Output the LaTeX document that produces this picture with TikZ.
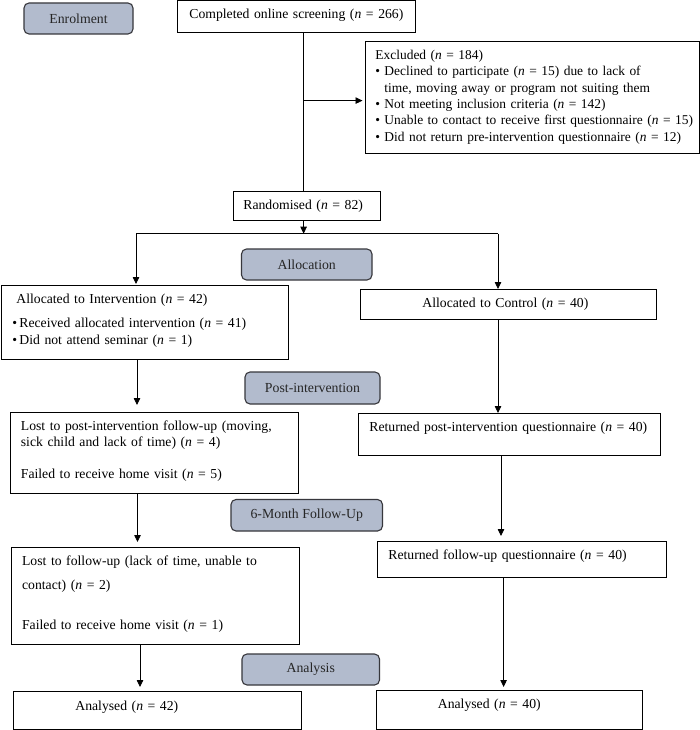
\documentclass[tikz,border=0pt]{standalone}
\usepackage{fontspec}
\setmainfont{Liberation Serif}
\usetikzlibrary{arrows.meta}
\definecolor{phasefill}{RGB}{178,187,205}
\definecolor{phaseline}{RGB}{55,55,60}
\newcommand{\nn}{\textit{n}}
\newcommand{\blt}[1]{\makebox[#1][l]{\textbullet}}
\begin{document}
\begin{tikzpicture}[x=1pt,y=-1pt,
  box/.style={draw=black, line width=0.8pt, anchor=north west, inner ysep=0pt, align=left},
  phase/.style={draw=phaseline, fill=phasefill, rounded corners=5pt, line width=1.1pt,
    font=\fontsize{13.8}{15}\selectfont, text=black!85, inner sep=0pt},
  arr/.style={-{Triangle[length=7pt,width=6.5pt]}, line width=0.8pt},
  ln/.style={line width=0.8pt}]
\useasboundingbox (0,0) rectangle (700,730);
\fill[white] (0,0) rectangle (700,730);

% phase labels
\node[phase, minimum width=109pt, minimum height=31pt] (enr) at (78.5,18.5) {Enrolment};
\node[phase, minimum width=130.5pt, minimum height=31pt] (alloc) at (306.75,264.5) {Allocation};
\node[phase, minimum width=135pt, minimum height=32pt] (post) at (312.5,388) {Post-intervention};
\node[phase, minimum width=151.5pt, minimum height=31.5pt] (six) at (306.75,515.25) {6-Month Follow-Up};
\node[phase, minimum width=137.5pt, minimum height=31pt] (ana) at (310.75,669.5) {Analysis};

% boxes
\node[box, align=center, inner xsep=5pt, text width=228pt, text height=18.5pt, text depth=13.5pt,
  font=\fontsize{13.7}{16}\selectfont] (comp) at (177,0)
  {\mbox{Completed online screening (\nn{} = 266)}};

\node[box, inner xsep=10pt, text width=314pt, text height=18pt, text depth=94pt,
  font=\fontsize{13.45}{16.4}\selectfont] (excl) at (365,41)
  {\mbox{Excluded (\nn{} = 184)}\\
   \mbox{\blt{9pt}Declined to participate (\nn{} = 15) due to lack of}\\
   \mbox{\hspace*{9pt}time, moving away or program not suiting them}\\
   \mbox{\blt{9pt}Not meeting inclusion criteria (\nn{} = 142)}\\
   \mbox{\blt{9pt}Unable to contact to receive first questionnaire (\nn{} = 15)}\\
   \mbox{\blt{9pt}Did not return pre-intervention questionnaire (\nn{} = 12)}};

\node[box, inner xsep=10pt, text width=127pt, text height=18pt, text depth=11pt,
  font=\fontsize{13.7}{16}\selectfont] (rand) at (233,191)
  {\mbox{Randomised (\nn{} = 82)}};

\node[box, inner xsep=11pt, text width=265pt, text height=18pt, text depth=56pt,
  font=\fontsize{13.7}{16.5}\selectfont] (int) at (1,285)
  {\mbox{\hspace*{4pt}Allocated to Intervention (\nn{} = 42)}\\[8pt]
   \mbox{\blt{7pt}Received allocated intervention (\nn{} = 41)}\\
   \mbox{\blt{7pt}Did not attend seminar (\nn{} = 1)}};

\node[box, inner xsep=62pt, text width=172pt, text height=18pt, text depth=12pt,
  font=\fontsize{13.7}{16}\selectfont] (ctl) at (360,289)
  {\mbox{Allocated to Control (\nn{} = 40)}};

\node[box, inner xsep=10.5pt, text width=267pt, text height=18.5pt, text depth=62.5pt,
  font=\fontsize{13.7}{16}\selectfont] (lostp) at (10,411.5)
  {\mbox{Lost to post-intervention follow-up (moving,}\\
   \mbox{sick child and lack of time) (\nn{} = 4)}\\[16pt]
   \mbox{Failed to receive home visit (\nn{} = 5)}};

\node[box, inner xsep=11.5pt, text width=279.5pt, text height=18pt, text depth=24pt,
  font=\fontsize{13.7}{16}\selectfont] (retp) at (357.5,413)
  {\mbox{Returned post-intervention questionnaire (\nn{} = 40)}};

\node[box, inner xsep=11pt, text width=266pt, text height=18pt, text depth=79pt,
  font=\fontsize{13.7}{24}\selectfont] (lostf) at (10.7,547)
  {\mbox{Lost to follow-up (lack of time, unable to}\\
   \mbox{contact) (\nn{} = 2)}\\[16pt]
   \mbox{Failed to receive home visit (\nn{} = 1)}};

\node[box, inner xsep=11pt, text width=266.6pt, text height=18pt, text depth=18pt,
  font=\fontsize{13.7}{16}\selectfont] (retf) at (377,541)
  {\mbox{Returned follow-up questionnaire (\nn{} = 40)}};

\node[box, inner xsep=62pt, text width=164pt, text height=19pt, text depth=19pt,
  font=\fontsize{13.7}{16}\selectfont] (anL) at (13,691)
  {\mbox{Analysed (\nn{} = 42)}};

\node[box, inner xsep=61.5pt, text width=142.5pt, text height=18pt, text depth=21pt,
  font=\fontsize{13.7}{16}\selectfont] (anR) at (376,690)
  {\mbox{Analysed (\nn{} = 40)}};

% connectors
\coordinate (xm) at (303.6,0);
\coordinate (ye) at (0,100.6);
\coordinate (yj) at (0,233.7);
\coordinate (xl) at (136,0);
\coordinate (xr) at (498,0);
\coordinate (xlb) at (137,0);
\coordinate (xlc) at (137.5,0);
\coordinate (xrc) at (501,0);
\coordinate (xld) at (140,0);
\coordinate (xrd) at (503.6,0);

\draw[ln] (comp.south -| xm) -- (rand.north -| xm);
\draw[arr, shorten >=2.5pt] (xm |- ye) -- (excl.west |- ye);
\draw[arr] (rand.south -| xm) -- (xm |- yj);
\draw[ln] (xl |- yj) -- (xr |- yj);
\draw[arr, shorten >=1pt] (xl |- yj) -- (int.north -| xl);
\draw[arr] (xr |- yj) -- (ctl.north -| xr);
\draw[arr, shorten >=6.5pt] (int.south -| xlb) -- (lostp.north -| xlb);
\draw[arr] (ctl.south -| xr) -- (retp.north -| xr);
\draw[arr, shorten >=5pt] (lostp.south -| xlc) -- (lostf.north -| xlc);
\draw[arr, shorten >=5pt] (retp.south -| xrc) -- (retf.north -| xrc);
\draw[arr, shorten >=4pt] (lostf.south -| xld) -- (anL.north -| xld);
\draw[arr, shorten >=3pt] (retf.south -| xrd) -- (anR.north -| xrd);
\end{tikzpicture}
\end{document}
